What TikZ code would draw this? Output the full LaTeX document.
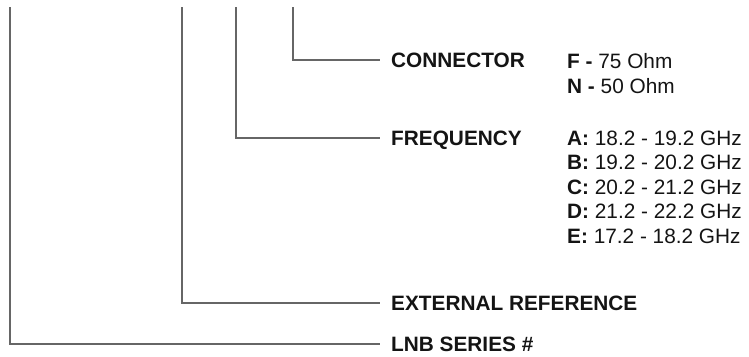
\documentclass[tikz,border=0pt]{standalone}
\usepackage{fontspec}
\setmainfont{Liberation Sans}
\definecolor{linegray}{HTML}{666666}
\definecolor{txt}{HTML}{141414}
\begin{document}
\begin{tikzpicture}[x=1pt,y=-1pt,
  conn/.style={draw=linegray,line width=1.6pt},
  lbl/.style={anchor=west,inner xsep=11pt,inner ysep=0pt,text height=15pt,text depth=0pt,
    font=\fontsize{20.8}{24}\selectfont\bfseries,text=txt},
  val/.style={anchor=base west,inner sep=0pt,font=\fontsize{20.8}{24}\selectfont,text=txt}]
\useasboundingbox (0,0) rectangle (749,356);
% top ends of the leaders
\coordinate (tlnb) at (10,7);
\coordinate (text) at (182,7);
\coordinate (tfreq) at (236,7);
\coordinate (tconn) at (293,7);
% labels
\node[lbl] (lconn) at (380,60) {CONNECTOR};
\node[lbl] (lfreq) at (380,138) {FREQUENCY};
\node[lbl] (lext) at (380,303) {EXTERNAL REFERENCE};
\node[lbl] (llnb) at (380,344) {LNB SERIES \#};
% values
\node[val] (vf) at (567,68) {\textbf{F -} 75 Ohm};
\node[val] (vn) at (567,93) {\textbf{N -} 50 Ohm};
\node[val] (va) at (567,145) {\textbf{A:} 18.2 - 19.2 GHz};
\node[val] (vb) at (567,169.5) {\textbf{B:} 19.2 - 20.2 GHz};
\node[val] (vc) at (567,194) {\textbf{C:} 20.2 - 21.2 GHz};
\node[val] (vd) at (567,218.5) {\textbf{D:} 21.2 - 22.2 GHz};
\node[val] (ve) at (567,243) {\textbf{E:} 17.2 - 18.2 GHz};
% leaders
\draw[conn] (tconn) |- (lconn.west);
\draw[conn] (tfreq) |- (lfreq.west);
\draw[conn] (text) |- (lext.west);
\draw[conn] (tlnb) |- (llnb.west);
\end{tikzpicture}
\end{document}
